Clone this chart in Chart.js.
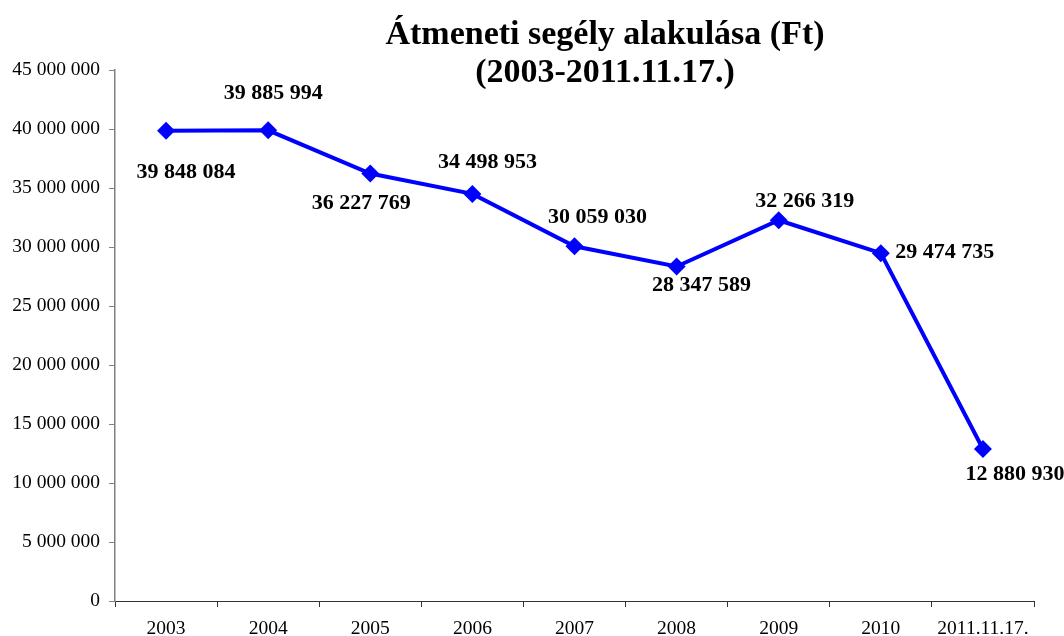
<!DOCTYPE html>
<html>
<head>
<meta charset="utf-8">
<script src="https://cdn.jsdelivr.net/npm/chart.js@4"></script>
<style>
html,body{margin:0;padding:0;background:#fff;}
#wrap{width:1064px;height:636px;}
</style>
</head>
<body>
<div id="wrap"><canvas id="c" width="1064" height="636"></canvas></div>
<script>
const categories = ['2003','2004','2005','2006','2007','2008','2009','2010','2011.11.17.'];
const values = [39848084, 39885994, 36227769, 34498953, 30059030, 28347589, 32266319, 29474735, 12880930];
const titleLines = ['Átmeneti segély alakulása (Ft)', '(2003-2011.11.17.)'];
const yMin = 0, yMax = 45000000, yStep = 5000000;

// label placement relative to point (position style only)
const labelOffsets = [
  [20, 42], [5, -37], [-9, 30], [15, -32], [23, -29], [25, 19], [26, -19], [64, -1], [32, 25]
];

function fmt(n){ return String(Math.round(n)).replace(/\B(?=(\d{3})+(?!\d))/g, ' '); }

const overlay = {
  id: 'overlay',
  afterDatasetsDraw(chart){
    const ctx = chart.ctx;
    const meta = chart.getDatasetMeta(0);
    ctx.save();
    ctx.fillStyle = '#000';
    ctx.font = 'bold 22px "Liberation Serif", "Times New Roman", serif';
    ctx.textAlign = 'center';
    ctx.textBaseline = 'middle';
    meta.data.forEach((pt, i) => {
      const o = labelOffsets[i];
      ctx.fillText(fmt(values[i]), pt.x + o[0], pt.y + o[1]);
    });
    ctx.font = 'bold 34px "Liberation Serif", "Times New Roman", serif';
    ctx.textBaseline = 'alphabetic';
    ctx.fillText(titleLines[0], 605, 44);
    ctx.fillText(titleLines[1], 605, 82);
    ctx.restore();
  }
};

new Chart(document.getElementById('c'), {
  type: 'line',
  data: {
    labels: categories,
    datasets: [{
      data: values,
      borderColor: '#0000FF',
      backgroundColor: '#0000FF',
      borderWidth: 4,
      pointStyle: 'rectRot',
      pointRadius: 9,
      pointHoverRadius: 9,
      pointBorderWidth: 0,
      tension: 0,
      fill: false
    }]
  },
  options: {
    responsive: false,
    animation: false,
    events: [],
    layout: { padding: { top: 70, right: 30, left: 0, bottom: 0 } },
    plugins: { legend: { display: false }, title: { display: false }, tooltip: { enabled: false } },
    scales: {
      x: {
        offset: true,
        grid: { offset: true, drawOnChartArea: false, drawTicks: true, tickLength: 6, color: '#333333', lineWidth: 1 },
        border: { color: '#333333', width: 1 },
        ticks: { color: '#000', font: { family: '"Liberation Serif", "Times New Roman", serif', size: 19.5 }, padding: 10, maxRotation: 0, autoSkip: false },
        afterFit(axis){ axis.height = 35; }
      },
      y: {
        min: yMin, max: yMax,
        grid: { drawOnChartArea: false, drawTicks: true, tickLength: 6, color: '#808080', lineWidth: 1 },
        border: { color: '#808080', width: 1.5 },
        ticks: { stepSize: yStep, color: '#000', font: { family: '"Liberation Serif", "Times New Roman", serif', size: 19.5 }, padding: 9, callback: v => fmt(v) },
        afterFit(axis){ axis.width = 115; }
      }
    }
  },
  plugins: [overlay]
});
</script>
</body>
</html>
